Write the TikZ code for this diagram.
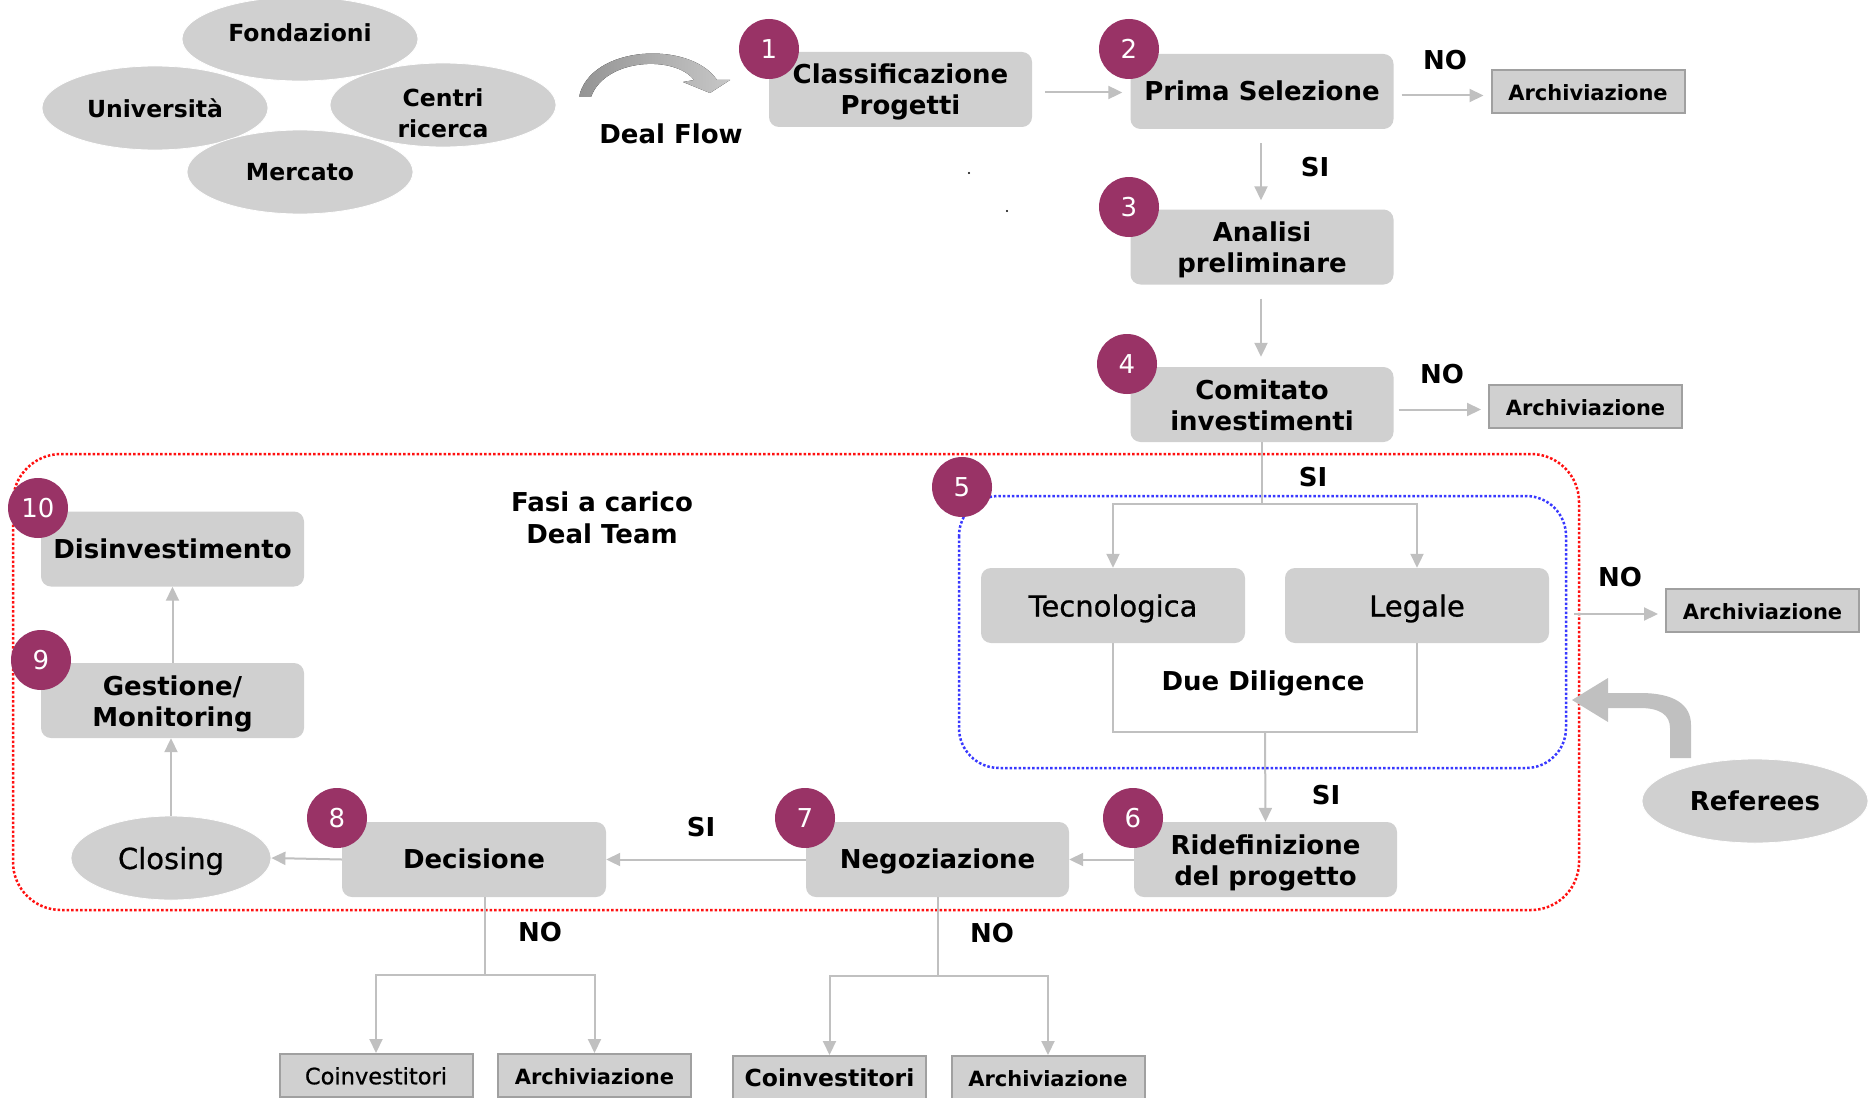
\documentclass[tikz,border=0pt]{standalone}
\usepackage{fontspec}
\setmainfont{DejaVu Sans}
\newfontfamily\medfont[FakeBold=0.8]{DejaVu Sans}
\usetikzlibrary{arrows.meta,calc,shapes.geometric}
\definecolor{boxgray}{HTML}{D0D0D0}
\definecolor{linegray}{HTML}{C0C0C0}
\definecolor{plum}{HTML}{993366}
\definecolor{framegray}{HTML}{A0A0A0}
\definecolor{dotred}{HTML}{FF1010}
\definecolor{dotblue}{HTML}{3838FF}
% text with fixed box dimensions, so every label sits on the same baseline
\newcommand\oneline[2][18pt]{\raisebox{0pt}[#1][0pt]{#2}}
\newcommand\twolines[2]{\raisebox{0pt}[0pt][11pt]{\makebox[0pt]{#1}\makebox[0pt]{\raisebox{-31pt}{#2}}}}
\begin{document}
\begin{tikzpicture}[x=1pt,y=-1pt,
  box/.style={rectangle, rounded corners=10pt, fill=boxgray, minimum width=263pt,
    minimum height=75pt, inner sep=0pt,
    font=\bfseries\fontsize{26}{31}\selectfont},
  rbox/.style={box, font=\medfont\fontsize{29}{34}\selectfont},
  arch/.style={rectangle, fill=boxgray, draw=framegray, line width=2pt,
    minimum width=193pt, minimum height=43pt, inner sep=0pt,
    font=\bfseries\fontsize{21}{25}\selectfont},
  ell/.style={ellipse, fill=boxgray, draw=white, line width=0.8pt, inner sep=0pt,
    minimum width=226pt, minimum height=84pt, align=center,
    font=\bfseries\fontsize{23.5}{31}\selectfont},
  etxt/.style={inner sep=0pt, align=center, font=\bfseries\fontsize{23.5}{31}\selectfont},
  num/.style={circle, fill=plum, minimum size=60pt, inner sep=0pt, text=white,
    font=\fontsize{26}{30}\selectfont},
  lbl/.style={inner sep=0pt, align=center, font=\bfseries\fontsize{26}{32}\selectfont},
  ln/.style={draw=linegray, line width=2pt},
  arr/.style={ln, -{Triangle[length=14pt,width=13pt]}},
  redframe/.style={draw=dotred, line width=2.5pt, dash pattern=on 2.5pt off 2pt, rounded corners=48pt},
  blueframe/.style={draw=dotblue, line width=2.5pt, dash pattern=on 2.5pt off 2pt, rounded corners=40pt}
]
\clip (0,0) rectangle (1870,1097);
\fill[white] (0,0) rectangle (1870,1097);

% sources of the deal flow
\node[ell, minimum width=236pt] (fond) at (300,39) {};
\node[etxt] (fondtxt) at (300,33) {Fondazioni};
\node[ell] (univ) at (155,108) {Università};
\node[ell] (centri) at (443,105) {};
\node[etxt] (centritxt) at (443,113) {Centri\\ricerca};
\node[ell] (merc) at (300,172) {Mercato};

% curved deal-flow arrow
\fill[left color=black!42, right color=black!22]
  (579,97) .. controls (590,45) and (690,40) .. (717,80) -- (730,80) -- (710,93)
  -- (683,82) -- (694,80) .. controls (675,55) and (605,58) .. (591,97) -- cycle;
\node[lbl] (dealflow) at (671,134) {Deal Flow};

% dotted frames
\draw[redframe] (13,454) rectangle (1579,910);
\draw[blueframe] (959,496) rectangle (1566,768);
\node[lbl] (fasi) at (602,518) {Fasi a carico\\Deal Team};

% main steps
\node[box] (cls) at (900.5,89.5) {\twolines{Classificazione}{Progetti}};
\node[box] (prima) at (1262,91.5) {\oneline{Prima Selezione}};
\node[box] (analisi) at (1262,247) {\twolines{Analisi}{preliminare}};
\node[box] (comitato) at (1262,404.5) {\twolines{Comitato}{investimenti}};
\node[rbox, minimum width=264pt] (tecno) at (1113,605.5) {\oneline[22pt]{Tecnologica}};
\node[rbox, minimum width=264pt] (legale) at (1417,605.5) {\oneline[22pt]{Legale}};
\node[box] (ridef) at (1265.5,859.5) {\twolines{Ridefinizione}{del progetto}};
\node[box] (nego) at (937.5,859.5) {\oneline{Negoziazione}};
\node[box, minimum width=264pt] (decis) at (474,859.5) {\oneline{Decisione}};
\node[ell, minimum width=200pt, font=\medfont\fontsize{29}{34}\selectfont] (closing) at (171,858) {\oneline[22pt]{Closing}};
\node[box] (gest) at (172.5,700.5) {\twolines{Gestione/}{Monitoring}};
\node[box] (disinv) at (172.5,549) {\oneline{Disinvestimento}};

% outcome boxes
\node[arch] (arch1) at (1588,91.5) {\oneline[17.5pt]{Archiviazione}};
\node[arch] (arch2) at (1585.5,406.5) {\oneline[17.5pt]{Archiviazione}};
\node[arch] (arch3) at (1762.5,610.5) {\oneline[17.5pt]{Archiviazione}};
\node[arch, font=\medfont\fontsize{22.5}{26}\selectfont] (coinv1) at (376,1075.5) {\oneline[17.5pt]{Coinvestitori}};
\node[arch] (arch4) at (594.5,1075.5) {\oneline[17.5pt]{Archiviazione}};
\node[arch, font=\bfseries\fontsize{23.5}{27}\selectfont] (coinv2) at (829.5,1077.5) {\oneline[18pt]{Coinvestitori}};
\node[arch] (arch5) at (1048,1077.5) {\oneline[17.5pt]{Archiviazione}};

% referees
\node[ell, font=\bfseries\fontsize{26}{32}\selectfont] (referees) at (1755,801) {Referees};
\coordinate (reftip) at (1572,700);
\fill[linegray] (1608,693) -- (1640,693) .. controls (1675,693) and (1691,705) .. (1691,725)
  -- (1691,758) -- (1670,758) -- (1670,728) .. controls (1670,715) and (1660,708) .. (1640,708)
  -- (1608,708) -- (1608,722) -- (reftip) -- (1608,678) -- cycle;

% connectors
\draw[arr] ($(cls.east)+(13,3)$) -- ($(cls.east -| prima.west)+(-8,3)$);
\draw[arr] ($(prima.east)+(8,4)$) -- ($(prima.east -| arch1.west)+(-7,4)$);
\draw[arr] ($(prima.south)+(-1,14)$) -- ($(analisi.north)+(-1,-9)$);
\draw[arr] ($(analisi.south)+(-1,14)$) -- ($(comitato.north)+(-1,-10)$);
\draw[arr] ($(comitato.east)+(5,5)$) -- ($(comitato.east -| arch2.west)+(-7,5)$);

\coordinate (split) at (1262,504);
\draw[ln] (comitato.south) -- (split);
\draw[arr] (split) -| (tecno.north);
\draw[arr] (split) -| (legale.north);

\coordinate (ddbase) at (1265,732);
\draw[ln] (tecno.south) |- (ddbase) -| (legale.south);
\node[lbl] (duedil) at (1263,683) {Due Diligence};
\draw[arr] (ddbase) -- (ridef.north);

\coordinate (nostart) at (1574,614);
\draw[arr] (nostart) -- ($(nostart -| arch3.west)+(-7,0)$);

\draw[arr] (ridef.west) -- (nego.east);
\draw[arr] (nego.west) -- (decis.east);
\draw[arr] (decis.west) -- (closing.east);
\draw[arr] (closing.north) -- (closing.north |- gest.south);
\draw[arr] (gest.north) -- (disinv.south);

\coordinate (dsplit) at (485,975);
\draw[ln] (dsplit |- decis.south) -- (dsplit);
\draw[arr] (dsplit) -| (coinv1.north);
\draw[arr] (dsplit) -| (arch4.north);

\coordinate (nsplit) at (938,976);
\draw[ln] (nsplit |- nego.south) -- (nsplit);
\draw[arr] (nsplit) -| (coinv2.north);
\draw[arr] (nsplit) -| (arch5.north);

% decision labels
\node[lbl] (no1) at (1445,60) {NO};
\node[lbl] (si1) at (1315,167) {SI};
\node[lbl] (no2) at (1442,374) {NO};
\node[lbl] (si2) at (1313,477) {SI};
\node[lbl] (no3) at (1620,577) {NO};
\node[lbl] (si3) at (1326,795) {SI};
\node[lbl] (si4) at (701,827) {SI};
\node[lbl] (no4) at (540,932) {NO};
\node[lbl] (no5) at (992,933) {NO};

% step numbers
\node[num] (n1) at (769,49) {1};
\node[num] (n2) at (1129,49) {2};
\node[num] (n3) at (1129,207) {3};
\node[num] (n4) at (1127,364) {4};
\node[num] (n5) at (962,487) {5};
\node[num] (n6) at (1133,818) {6};
\node[num] (n7) at (805,818) {7};
\node[num] (n8) at (337,818) {8};
\node[num] (n9) at (41,660) {9};
\node[num] (n10) at (38,508) {10};

% stray marks
\fill[black] (969,173) circle (1.2);
\fill[black] (1007,211) circle (1.2);
\end{tikzpicture}
\end{document}
